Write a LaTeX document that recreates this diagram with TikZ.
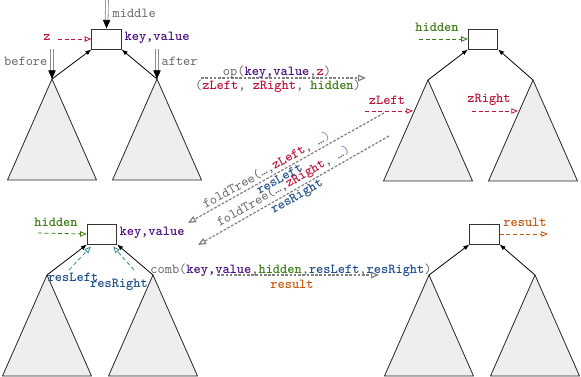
\documentclass[tikz,border=0pt]{standalone}
\usepackage{fontspec}
\usetikzlibrary{arrows.meta,shadows}
\definecolor{kvpurple}{HTML}{4B0E82}
\definecolor{zred}{HTML}{C0143C}
\definecolor{hidgreen}{HTML}{3C7A14}
\definecolor{resblue}{HTML}{1F4E8C}
\definecolor{resorange}{HTML}{C8580A}
\definecolor{resteal}{HTML}{2E8B8B}
\definecolor{lavender}{HTML}{9A7AD0}
\tikzset{
  tbox/.style={draw=black!80,fill=white,line width=0.7pt,minimum width=22pt,minimum height=15pt,inner sep=0pt,
    drop shadow={shadow xshift=0.6pt,shadow yshift=-0.6pt,opacity=0.35}}, % tree root
  tri/.style={draw=black!85,fill=gray!13,line width=0.6pt,line join=round},   % subtree
  edge/.style={-{Latex[length=4.5pt,width=3.5pt]},black,line width=0.6pt},
  dbl/.style={draw=gray!90,double=white,double distance=1.5pt,line width=0.6pt,-{Triangle[length=6.5pt,width=5.5pt,black]}},
  flow/.style={-{Triangle[open,length=5pt,width=4pt]},densely dashed,line width=0.6pt},
  call/.style={-{Triangle[open,length=6pt,width=5pt]},gray,dash pattern=on 2pt off 1.2pt,line width=0.9pt},
  lbl/.style={font=\ttfamily\fontsize{10.3}{12}\selectfont,text=black!60,inner sep=1pt},
}
\newcommand{\subtree}[3]{% name, apex x, apex y
  \coordinate (#1) at (#2,#3);
  \filldraw[tri] (#1) -- ++(-44.5,101) -- ++(89,0) -- cycle;
}
\newcommand{\nm}[2]{\textcolor{#1}{\bfseries #2}}

\begin{document}
\begin{tikzpicture}[x=0.75pt,y=-0.75pt]
  \useasboundingbox (0,0) rectangle (581,376);
  % top left: op on the root
  \node[tbox] (kvA) at (106.5,39) {};
  \subtree{lA}{52}{79}
  \subtree{rA}{157}{79}
  \draw[edge] (lA) -- (kvA.south west);
  \draw[edge] (rA) -- (kvA.south east);
  \coordinate (midA) at (107,0);
  \coordinate (befA) at (52,49);
  \coordinate (aftA) at (157,49);
  \draw[dbl] (midA) -- (kvA.north);
  \draw[dbl] (befA) -- (lA);
  \draw[dbl] (aftA) -- (rA);
  \node[lbl,anchor=west] (midlbl) at (111,13) {middle};
  \node[lbl,anchor=east] (beflbl) at (49,61) {before};
  \node[lbl,anchor=west] (aftlbl) at (160,61) {after};
  \node[lbl] (zlbl) at (47,37) {\nm{zred}{z}};
  \coordinate (zS) at (58,39);
  \draw[flow,zred] (zS) -- (kvA.west);
  \node[lbl,anchor=west] (kvAlbl) at (123,38) {\nm{kvpurple}{key,value}};
  % op
  \coordinate (opS) at (201,78);
  \coordinate (opE) at (366,78);
  \draw[call] (opS) -- (opE);
  \node[lbl] (oplbl) at (277,72) {op(\nm{kvpurple}{key,value},\nm{zred}{z})};
  \node[lbl] (opres) at (278,86) {(\nm{zred}{zLeft}, \nm{zred}{zRight}, \nm{hidgreen}{hidden})};
  % top right
  \node[tbox] (kvB) at (483,39) {};
  \subtree{lB}{428}{80}
  \subtree{rB}{533}{80}
  \draw[edge] (lB) -- (kvB.south west);
  \draw[edge] (rB) -- (kvB.south east);
  \node[lbl] (hidB) at (437,27) {\nm{hidgreen}{hidden}};
  \coordinate (hidS) at (419,39);
  \draw[flow,hidgreen] (hidS) -- (kvB.west);
  \node[lbl] (zLlbl) at (387,100) {\nm{zred}{zLeft}};
  \node[lbl] (zRlbl) at (489,100) {\nm{zred}{zRight}};
  \coordinate (zLS) at (365,111);
  \coordinate (zLE) at (413,111);
  \coordinate (zRS) at (472,111);
  \coordinate (zRE) at (518,111);
  \draw[flow,zred] (zLS) -- (zLE);
  \draw[flow,zred] (zRS) -- (zRE);
  % recursive calls
  \coordinate (f1S) at (384,113);
  \coordinate (f1E) at (188,223);
  \coordinate (f2S) at (389,136);
  \coordinate (f2E) at (198,245);
  \draw[call] (f1S) -- (f1E)
    node[lbl,sloped,above,pos=0.58] (f1lbl) {foldTree(…,\nm{zred}{zLeft}, …\textcolor{lavender}{)}}
    node[lbl,sloped,below,pos=0.55] (f1res) {\nm{resblue}{resLeft}};
  \draw[call] (f2S) -- (f2E)
    node[lbl,sloped,above,pos=0.53] (f2lbl) {foldTree(…,\nm{zred}{zRight}, …\textcolor{lavender}{)}}
    node[lbl,sloped,below,pos=0.5] (f2res) {\nm{resblue}{resRight}};
  % bottom left: comb
  \node[tbox] (kvC) at (102,234) {};
  \subtree{lC}{47}{275}
  \subtree{rC}{153}{275}
  \draw[edge] (lC) -- (kvC.south west);
  \draw[edge] (rC) -- (kvC.south east);
  \node[lbl] (hidC) at (56,222) {\nm{hidgreen}{hidden}};
  \coordinate (hidCS) at (38,233);
  \draw[flow,hidgreen] (hidCS) -- (kvC.west);
  \node[lbl,anchor=west] (kvClbl) at (118,233) {\nm{kvpurple}{key,value}};
  \coordinate (rlS) at (69,270);
  \coordinate (rrS) at (134,270);
  \draw[flow,resteal] (rlS) -- ([xshift=3pt,yshift=-1.5pt]kvC.south west);
  \draw[flow,resteal] (rrS) -- ([xshift=-3pt,yshift=-1.5pt]kvC.south east);
  \node[lbl] (rllbl) at (73,277) {\nm{resblue}{resLeft}};
  \node[lbl] (rrlbl) at (119,285) {\nm{resblue}{resRight}};
  \coordinate (cbS) at (217,275);
  \coordinate (cbE) at (379,275);
  \draw[call] (cbS) -- (cbE);
  \node[lbl] (cblbl) at (291,270) {comb(\nm{kvpurple}{key,value},\nm{hidgreen}{hidden},\nm{resblue}{resLeft},\nm{resblue}{resRight})};
  \node[lbl] (cbres) at (292,284) {\nm{resorange}{result}};
  % bottom right
  \node[tbox] (kvD) at (484.5,234) {};
  \subtree{lD}{429}{275}
  \subtree{rD}{535}{275}
  \draw[edge] (lD) -- (kvD.south west);
  \draw[edge] (rD) -- (kvD.south east);
  \coordinate (resE) at (548,234);
  \draw[flow,resorange] (kvD.east) -- (resE);
  \node[lbl] (reslbl) at (525,222) {\nm{resorange}{result}};
\end{tikzpicture}
\end{document}
